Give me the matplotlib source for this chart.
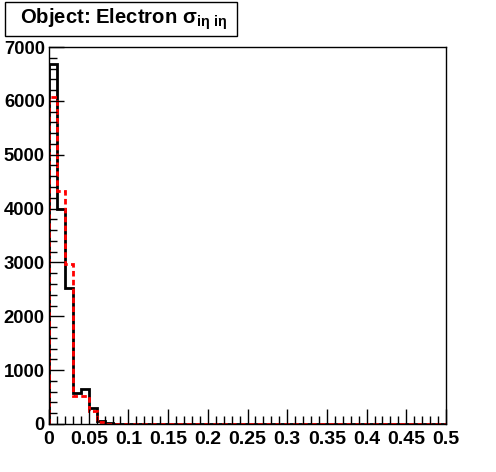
import numpy as np
import matplotlib.pyplot as plt
from matplotlib.ticker import MultipleLocator
from matplotlib.patches import Rectangle

# bin contents, 50 bins of width 0.01 from 0 to 0.5
bin_lo = 0.0
bin_hi = 0.5
n_bins = 50
black_counts = [6680, 3990, 2530, 580, 645, 290, 60, 10, 6, 4,
                3, 3, 2, 2, 2, 1, 1, 1, 1, 1] + [1] * 10 + [0] * 20
red_counts = [6075, 4330, 2970, 520, 520, 250, 45, 8, 5, 4,
              3, 2, 2, 2, 1, 1, 1, 1, 1, 1] + [1] * 10 + [0] * 20

x_ticks = [0, 0.05, 0.1, 0.15, 0.2, 0.25, 0.3, 0.35, 0.4, 0.45, 0.5]
x_labels = ["0", "0.05", "0.1", "0.15", "0.2", "0.25", "0.3", "0.35", "0.4", "0.45", "0.5"]
y_ticks = [0, 1000, 2000, 3000, 4000, 5000, 6000, 7000]

plt.rcParams['font.family'] = ['Liberation Sans', 'DejaVu Sans']
plt.rcParams['mathtext.default'] = 'regular'

W, H = 496, 472
fig = plt.figure(figsize=(W / 100, H / 100), dpi=100)
ax = fig.add_axes([49 / W, 48 / H, 397 / W, 377 / H])

edges = np.linspace(bin_lo, bin_hi, n_bins + 1)
ax.stairs(black_counts, edges, color="black", linewidth=2)
ax.stairs(red_counts, edges, color="red", linewidth=2, linestyle=(0, (2, 1.2)))

ax.set_xlim(bin_lo, bin_hi)
ax.set_ylim(0, 7000)
ax.set_xticks(x_ticks)
ax.set_xticklabels(x_labels, fontweight="bold", fontsize=14)
ax.set_yticks(y_ticks)
ax.set_yticklabels([str(v) for v in y_ticks], fontweight="bold", fontsize=13.3)
ax.xaxis.set_minor_locator(MultipleLocator(0.01))
ax.yaxis.set_minor_locator(MultipleLocator(200))
ax.tick_params(which="major", direction="in", length=11, width=1, pad=3)
ax.tick_params(which="minor", direction="in", length=5.5, width=1)
ax.tick_params(axis="x", pad=5)
for s in ax.spines.values():
    s.set_linewidth(1)

# title box
fig.patches.append(Rectangle((5 / W, 1 - 36 / H), 232 / W, 34 / H, transform=fig.transFigure,
                             facecolor="white", edgecolor="black", linewidth=1))
fig.text(20 / W, 1 - 19 / H, r"Object: Electron $\sigma_{i\eta\ i\eta}$",
         fontsize=14.6, fontweight="bold", va="center", ha="left")

plt.savefig("out.png", dpi=100)
